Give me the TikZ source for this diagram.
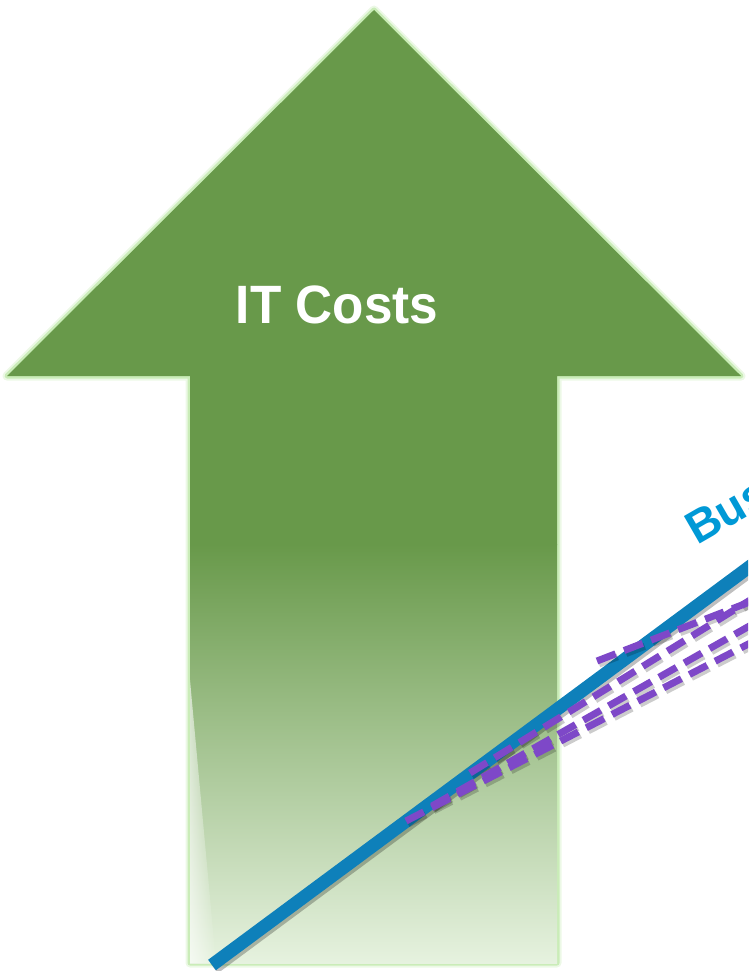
\documentclass[tikz,border=0pt]{standalone}
\usepackage{fontspec}
\setmainfont{Liberation Sans}
\usetikzlibrary{fadings}
\definecolor{arrowgreen}{RGB}{104,153,74}
\definecolor{palegreen}{RGB}{230,242,223}
\definecolor{glowgreen}{RGB}{160,222,128}
\definecolor{lineblue}{RGB}{14,128,186}
\definecolor{textblue}{RGB}{0,153,214}
\definecolor{dashpurple}{RGB}{126,72,200}
\tikzset{
  trend/.style={line width=13pt, lineblue},
  trendshadow/.style={line width=13pt, black, opacity=0.25},
  estim/.style={line width=7pt, dashpurple, dash pattern=on 20pt off 9pt},
  estimshadow/.style={line width=7pt, black, opacity=0.2, dash pattern=on 20pt off 9pt},
}
\begin{document}
\begin{tikzpicture}[x=1pt,y=-1pt]
\useasboundingbox (0,0) rectangle (748,971);
\clip (0,0) rectangle (748,971);
% arrow outline points
\coordinate (tip) at (374,10);
\coordinate (hl) at (7,376);
\coordinate (hr) at (741,376);
\coordinate (sl) at (190,376);
\coordinate (sr) at (557,376);
\coordinate (bl) at (190,963);
\coordinate (br) at (557,963);
% glow
\draw[glowgreen, line width=9pt, opacity=0.2, line join=round]
  (tip) -- (hr) -- (sr) -- (br) -- (bl) -- (sl) -- (hl) -- cycle;
\draw[glowgreen, line width=5pt, opacity=0.45, line join=round]
  (tip) -- (hr) -- (sr) -- (br) -- (bl) -- (sl) -- (hl) -- cycle;
% solid arrow
\fill[arrowgreen] (tip) -- (hr) -- (sr) -- (557,545) -- (190,545) -- (sl) -- (hl) -- cycle;
% fading shaft
\shade[top color=arrowgreen, bottom color=palegreen] (190,544) rectangle (557,963);
\fill[white, path fading=east, fill opacity=0.6] (190,680) -- (190,963) -- (216,963) -- cycle;
% label
\node[text=white, font=\fontsize{54}{60}\selectfont\bfseries, xscale=0.95] (costs) at (337,305) {IT Costs};
% trend line
\coordinate (t0) at (212,965);
\coordinate (t1) at (760,559);
\draw[trendshadow] ([shift={(2,3)}]t0) -- ([shift={(2,3)}]t1);
\draw[trend] (t0) -- (t1);
\node[text=textblue, font=\fontsize{46}{52}\selectfont\bfseries, rotate=30, anchor=base west, inner sep=0pt] (bus) at (697,546) {Bus};
% dashed estimate lines
\coordinate (a0) at (597,661);
\coordinate (a1) at (760,598);
\coordinate (b0) at (470,773);
\coordinate (b1) at (760,594);
\coordinate (c0) at (432,806);
\coordinate (c1) at (760,620);
\coordinate (d0) at (406,821);
\coordinate (d1) at (760,638);
\foreach \s/\e in {a0/a1,b0/b1,c0/c1,d0/d1}{
  \draw[estimshadow] ([shift={(2,3)}]\s) -- ([shift={(2,3)}]\e);
}
\draw[estim] (d0) -- (d1);
\draw[estim] (c0) -- (c1);
\draw[estim] (b0) -- (b1);
\draw[estim] (a0) -- (a1);
\end{tikzpicture}
\end{document}
